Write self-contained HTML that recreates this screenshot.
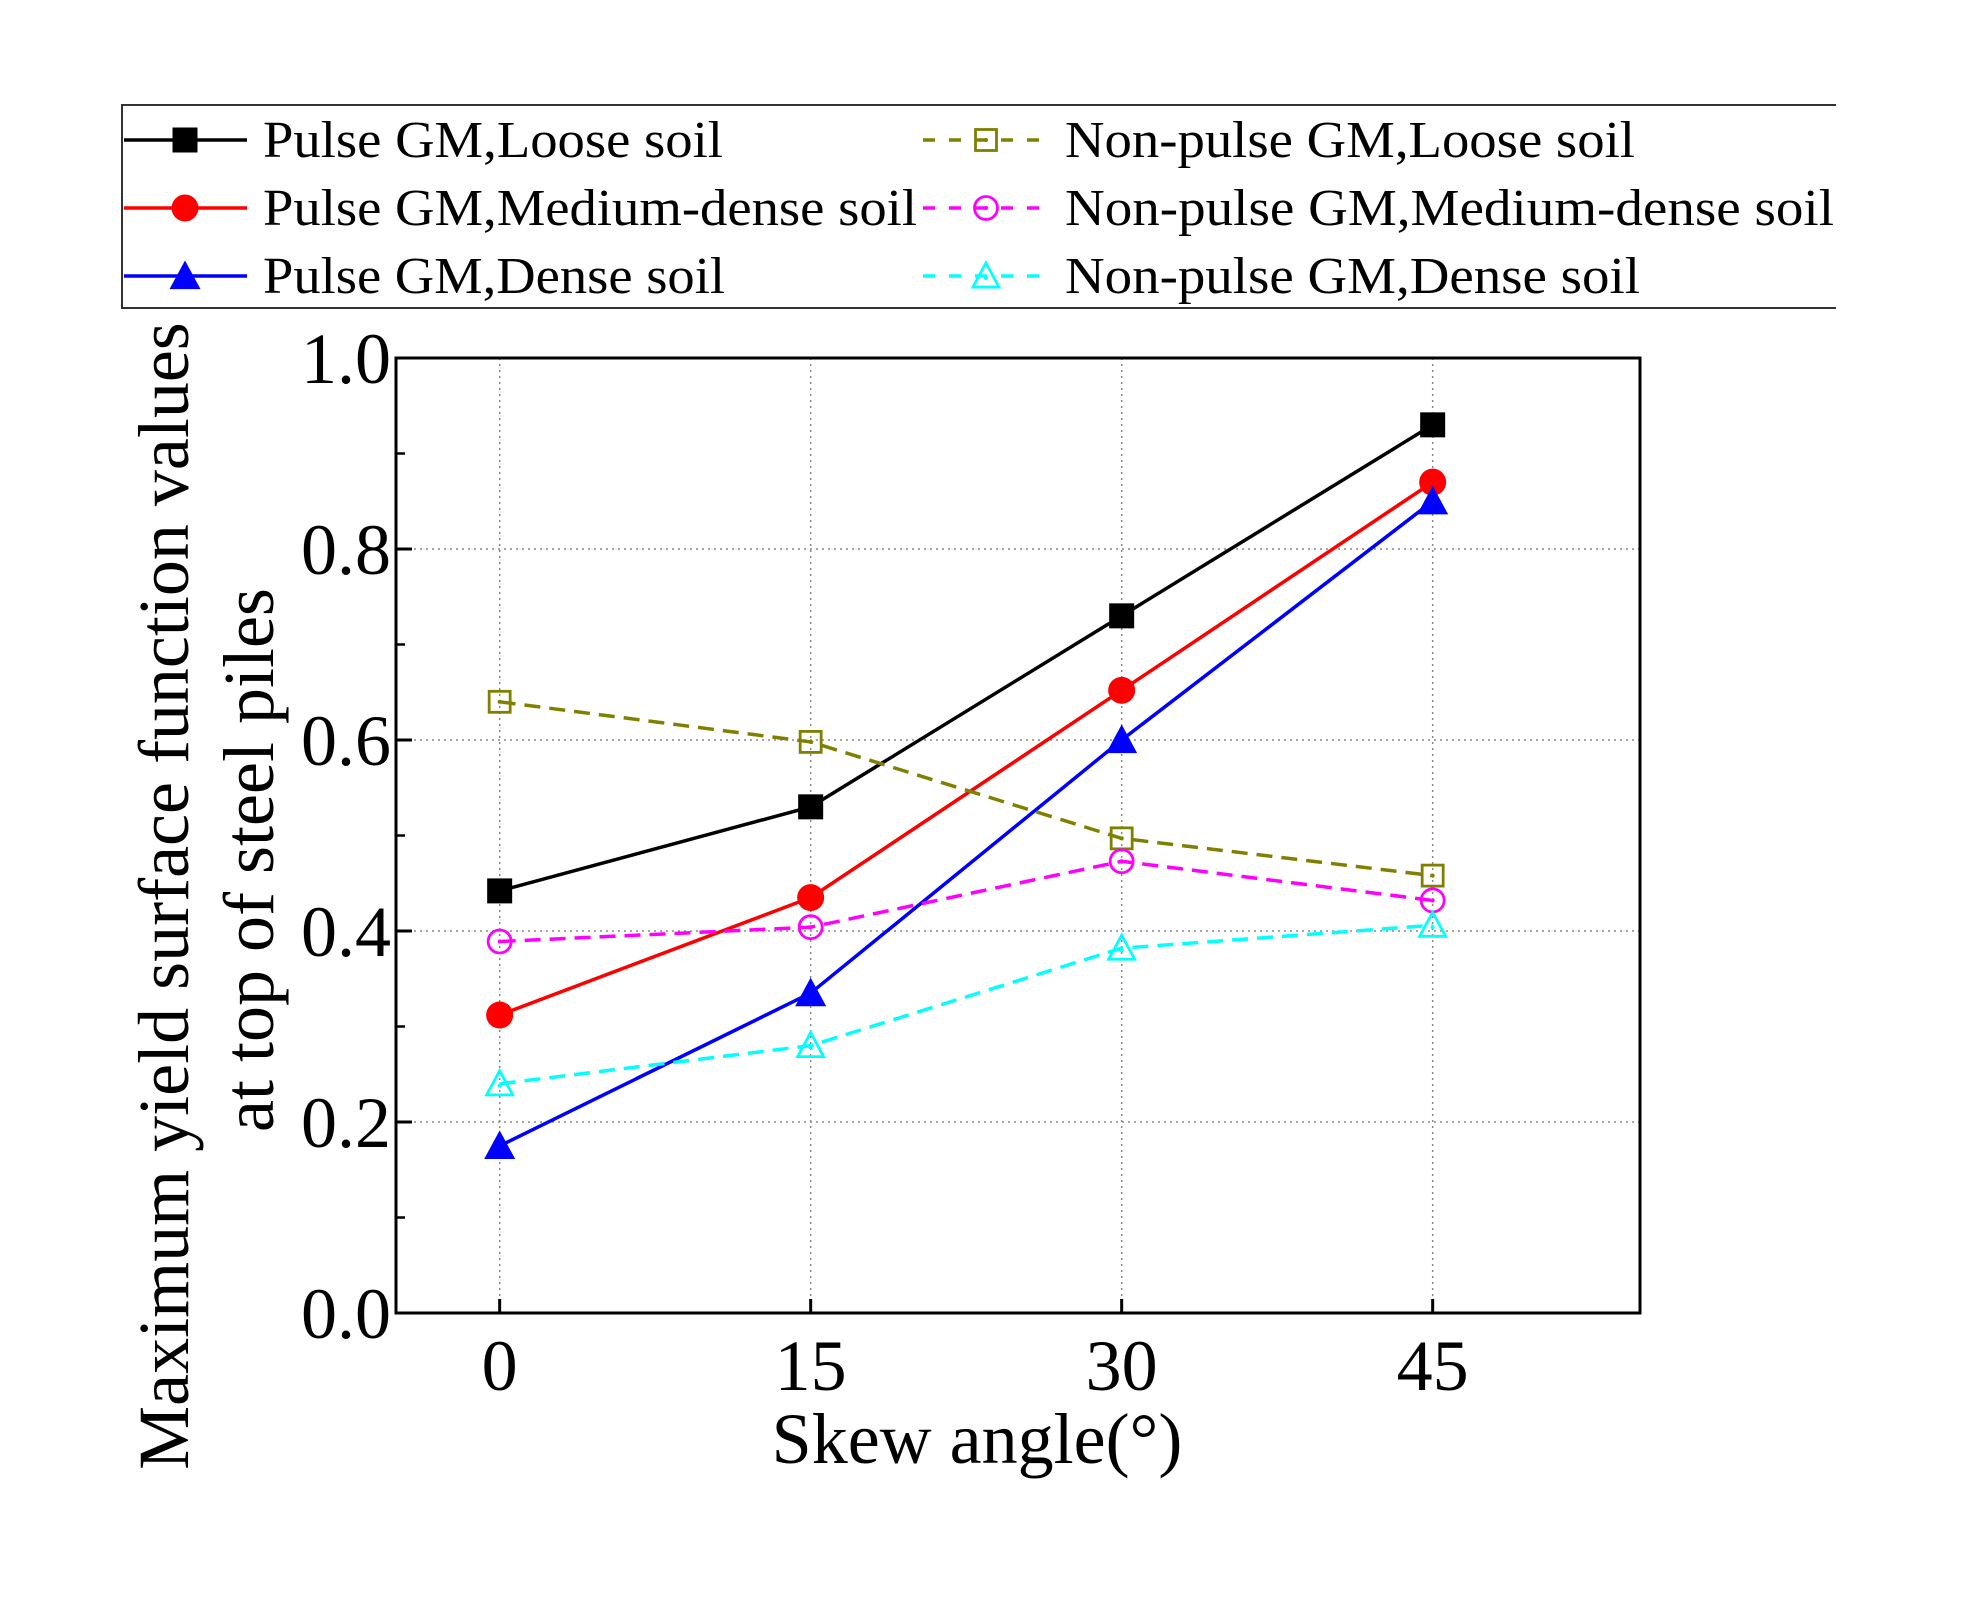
<!DOCTYPE html>
<html><head><meta charset="utf-8"><style>
html,body{margin:0;padding:0;background:#fff}
svg text{font-family:"Liberation Serif",serif;fill:#000}
</style></head><body>
<svg id="chart" xmlns="http://www.w3.org/2000/svg" width="1964" height="1592" viewBox="0 0 1964 1592">
<g id="grid"></g>
<g id="axes"></g>
<g id="series"></g>
<g id="legend"></g>
<text x="977" y="1463" font-size="72" text-anchor="middle">Skew angle(°)</text>
<text transform="translate(188,896) rotate(-90)" font-size="72" text-anchor="middle">Maximum yield surface function values</text>
<text transform="translate(273,860) rotate(-90)" font-size="72" text-anchor="middle">at top of steel piles</text>
</svg>
<script>
const categories=[0,15,30,45];
const xTicks=["0","15","30","45"];
const yTicks=["0.0","0.2","0.4","0.6","0.8","1.0"];
const pulseLoose=[0.442,0.53,0.73,0.93];
const pulseMedium=[0.312,0.435,0.652,0.87];
const pulseDense=[0.175,0.335,0.60,0.85];
const nonPulseLoose=[0.64,0.598,0.497,0.458];
const nonPulseMedium=[0.389,0.404,0.473,0.432];
const nonPulseDense=[0.24,0.28,0.382,0.406];
const seriesNames=["Pulse GM,Loose soil","Pulse GM,Medium-dense soil","Pulse GM,Dense soil","Non-pulse GM,Loose soil","Non-pulse GM,Medium-dense soil","Non-pulse GM,Dense soil"];

const L=396,R=1640,T=358,B=1313,X0=-5,X1=55,Y0=0,Y1=1;
const sx=v=>L+(v-X0)/(X1-X0)*(R-L);
const sy=v=>B-(v-Y0)/(Y1-Y0)*(B-T);
const NS="http://www.w3.org/2000/svg";
function mk(tag,attrs,parent){const e=document.createElementNS(NS,tag);for(const k in attrs)e.setAttribute(k,attrs[k]);parent.appendChild(e);return e;}
const grid=document.getElementById('grid'),axes=document.getElementById('axes'),ser=document.getElementById('series'),leg=document.getElementById('legend');

categories.forEach((c,i)=>{
  const g=mk('line',{x1:sx(c),x2:sx(c),y1:T,y2:B,stroke:'#888','stroke-width':1.5,'stroke-dasharray':'2 4'},grid);
  
  
  const t=mk('line',{x1:sx(c),x2:sx(c),y1:B,y2:B-14,stroke:'#000','stroke-width':3},axes);
  
  
  const l=mk('text',{x:sx(c),y:1390,'font-size':72,'text-anchor':'middle'},axes);
  l.textContent=xTicks[i];
  
  
});
yTicks.forEach((s,i)=>{
  const v=parseFloat(s);
  if(v>0&&v<1){
    const g=mk('line',{x1:L,x2:R,y1:sy(v),y2:sy(v),stroke:'#888','stroke-width':1.5,'stroke-dasharray':'2 4'},grid);
    
    
  }
  const t=mk('line',{x1:L,x2:L+16,y1:sy(v),y2:sy(v),stroke:'#000','stroke-width':3},axes);
  
  
  if(i<yTicks.length-1){
    const m=mk('line',{x1:L,x2:L+9,y1:sy(v+0.1),y2:sy(v+0.1),stroke:'#000','stroke-width':2.5},axes);
    
    
  }
  const l=mk('text',{x:391,y:sy(v)+25,'font-size':72,'text-anchor':'end'},axes);
  l.textContent=s;
  
  
});
const frame=mk('rect',{x:L,y:T,width:R-L,height:B-T,fill:'none',stroke:'#000','stroke-width':3},axes);



const styles=[
 {d:pulseLoose,c:'#000',dash:null,m:'square',fill:true},
 {d:pulseMedium,c:'#ff0000',dash:null,m:'circle',fill:true},
 {d:pulseDense,c:'#0000ff',dash:null,m:'triangle',fill:true},
 {d:nonPulseLoose,c:'#808000',dash:'16 9',m:'square',fill:false},
 {d:nonPulseMedium,c:'#ff00ff',dash:'16 9',m:'circle',fill:false},
 {d:nonPulseDense,c:'#00ffff',dash:'16 9',m:'triangle',fill:false}
];
function marker(p,st,x,y){
  let e;
  const f=st.fill?st.c:'none',sw=st.fill?0:2.8;
  const s=st.fill?12.5:10.5;
  if(st.m==='square')e=mk('rect',{x:x-s,y:y-s,width:2*s,height:2*s,fill:f,stroke:st.c,'stroke-width':sw},p);
  else if(st.m==='circle')e=mk('circle',{cx:x,cy:y,r:st.fill?13.5:11.5,fill:f,stroke:st.c,'stroke-width':sw},p);
  else {const h=st.fill?15.5:13;e=mk('polygon',{points:`${x},${y-h} ${x+h},${y+h*0.85} ${x-h},${y+h*0.85}`,fill:f,stroke:st.c,'stroke-width':sw},p);}
  
  
  if(!st.fill){const dt=mk('circle',{cx:x,cy:st.m==='triangle'?y+2:y,r:2,fill:st.c},p);
    
    }
}
styles.forEach((st,i)=>{
  const g=mk('g',{},ser);
  
  
  const pts=st.d.map((v,j)=>sx(categories[j])+','+sy(v)).join(' ');
  const pl=mk('polyline',{points:pts,fill:'none',stroke:st.c,'stroke-width':3.5},g);
  if(st.dash)pl.setAttribute('stroke-dasharray',st.dash);
  
  
  st.d.forEach((v,j)=>marker(g,st,sx(categories[j]),sy(v)));
});

// legend
const lb=mk('path',{d:'M1836,105 H122 V308 H1836',fill:'none',stroke:'#333','stroke-width':2},leg);


const rows=[140,208,276],lens=[[460,654,462],[570,769,575]];
styles.forEach((st,i)=>{
  const col=i<3?0:1,row=i%3,y=rows[row];
  const x0=col?923:124,x1=col?1046:247,mx=col?986:185,tx=col?1065:263;
  const g=mk('g',{},leg);
  
  
  const ln=mk('line',{x1:x0,x2:x1,y1:y,y2:y,stroke:st.c,'stroke-width':3.5},g);
  if(st.dash)ln.setAttribute('stroke-dasharray','12 14');
  
  
  marker(g,st,mx,y);
  const t=mk('text',{x:tx,y:y+17,'font-size':52,textLength:lens[col][row],lengthAdjust:'spacingAndGlyphs'},g);
  t.textContent=seriesNames[i];
  
  
});
</script>
</body></html>
